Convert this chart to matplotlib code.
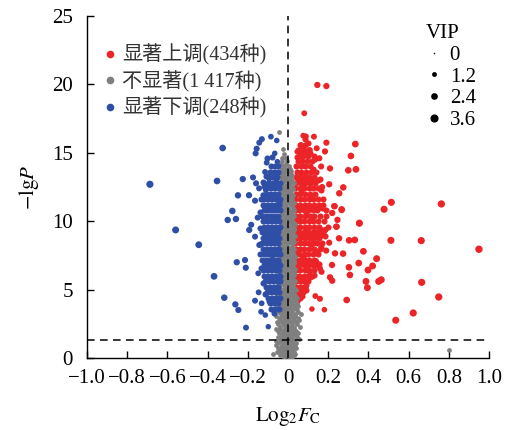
import numpy as np
import matplotlib
matplotlib.use("Agg")
import matplotlib.pyplot as plt
from matplotlib.lines import Line2D

plt.rcParams['font.family'] = ['Liberation Serif', 'Noto Sans CJK SC']
plt.rcParams['mathtext.fontset'] = 'stix'

# ---- data ----
# (log2FC, -lgP, VIP) for the scattered, clearly readable points
red_outer = [
    (0.146, 19.96, 2.6), (0.191, 19.88, 2.6), (0.081, 17.89, 2.2), (0.076, 16.25, 2.2),
    (0.089, 16.2, 2.2), (0.129, 16.18, 2.3), (0.065, 15.57, 2.2), (0.109, 15.2, 2.2),
    (0.143, 15.33, 2.3), (0.191, 15.74, 2.5), (0.184, 15.1, 2.5), (0.335, 15.64, 3.0),
    (0.313, 14.77, 2.9), (0.338, 13.79, 3.0), (0.300, 13.72, 2.9), (0.209, 13.86, 2.6),
    (0.046, 15.08, 2.0), (0.156, 14.6, 2.4), (0.135, 14.5, 2.3), (0.165, 14.0, 2.4),
    (0.275, 12.47, 2.8), (0.205, 12.7, 2.6), (0.170, 12.5, 2.4), (0.255, 12.04, 2.7),
    (0.232, 11.1, 2.6), (0.267, 10.87, 2.7), (0.514, 11.38, 3.3), (0.478, 10.87, 3.3),
    (0.355, 9.87, 3.0), (0.242, 9.6, 2.6), (0.22, 10.6, 2.6), (0.763, 11.26, 3.5),
    (0.950, 7.95, 3.6), (0.663, 8.58, 3.4), (0.512, 8.6, 3.3), (0.665, 5.53, 3.4),
    (0.750, 4.46, 3.5), (0.623, 3.29, 3.4), (0.536, 2.76, 3.3), (0.441, 7.26, 3.2),
    (0.421, 6.73, 3.1), (0.398, 6.43, 3.1), (0.464, 5.72, 3.2), (0.451, 5.6, 3.2),
    (0.388, 5.6, 3.1), (0.395, 5.14, 3.1), (0.292, 4.24, 2.9), (0.375, 7.8, 3.0),
    (0.352, 6.94, 3.0), (0.303, 6.63, 2.9), (0.308, 6.07, 2.9), (0.332, 8.63, 3.0),
    (0.304, 8.6, 2.9), (0.274, 7.63, 2.8), (0.234, 7.65, 2.7), (0.219, 6.8, 2.6),
    (0.209, 5.9, 2.6), (0.22, 5.65, 2.6), (0.159, 6.55, 2.4), (0.167, 6.3, 2.4),
    (0.136, 4.53, 2.2), (0.159, 4.33, 2.3), (0.119, 3.58, 1.9), (0.181, 3.53, 2.0),
    (0.186, 9.36, 2.5), (0.254, 8.75, 2.7), (0.267, 10.82, 2.7), (0.355, 9.84, 3.0),
    (0.24, 9.6, 2.6), (0.205, 8.43, 2.5), (0.19, 7.85, 2.5), (0.23, 11.1, 2.6),
    (0.246, 10.1, 2.6), (0.139, 7.09, 2.3), (0.108, 6.3, 2.2), (0.070, 5.17, 2.0),
    (0.06, 4.6, 2.0), (0.07, 5.8, 2.0),
]
blue_outer = [
    (-0.687, 12.7, 3.4), (-0.325, 15.35, 2.9), (-0.353, 12.94, 2.9), (-0.559, 9.36, 3.2),
    (-0.444, 8.28, 3.1), (-0.368, 5.97, 3.0), (-0.317, 4.41, 2.8), (-0.262, 3.92, 2.6),
    (-0.247, 3.51, 2.5), (-0.209, 2.22, 2.3), (-0.277, 10.75, 2.8), (-0.300, 10.09, 2.7),
    (-0.259, 10.16, 2.7), (-0.249, 11.89, 2.7), (-0.225, 13.08, 2.6), (-0.194, 11.9, 2.6),
    (-0.255, 7.0, 2.6), (-0.214, 7.16, 2.5), (-0.21, 6.6, 2.5), (-0.146, 4.8, 2.2),
    (-0.164, 4.19, 2.3), (-0.131, 4.0, 2.1), (-0.134, 3.38, 2.1), (-0.113, 3.14, 2.0),
    (-0.098, 2.29, 1.9), (-0.148, 6.19, 2.2), (-0.193, 9.36, 2.5), (-0.183, 9.74, 2.4),
    (-0.143, 8.26, 2.3), (-0.164, 8.87, 2.3), (-0.151, 10.26, 2.3), (-0.174, 13.2, 2.4),
    (-0.159, 12.77, 2.4), (-0.164, 11.5, 2.4), (-0.144, 12.4, 2.3), (-0.161, 14.96, 2.4),
    (-0.156, 15.3, 2.4), (-0.143, 15.74, 2.3), (-0.130, 16.0, 2.3), (-0.085, 16.18, 2.1),
    (-0.056, 15.9, 2.0), (-0.066, 14.96, 2.0), (-0.053, 14.35, 2.0), (-0.106, 14.28, 2.2),
    (-0.114, 13.6, 2.2), (-0.094, 13.1, 2.1), (-0.056, 13.5, 2.0), (-0.123, 11.9, 2.2),
    (-0.111, 12.3, 2.2), (-0.106, 10.8, 2.2),
]

# dense cores, read row by row: (-lgP, [log2FC, ...])
red_rows = [
    (4.4, [0.04, 0.06]), (4.8, [0.035, 0.055, 0.075]), (5.2, [0.04, 0.062, 0.085]),
    (5.6, [0.038, 0.058, 0.08, 0.1]), (6.0, [0.035, 0.056, 0.078, 0.1, 0.12]),
    (6.4, [0.04, 0.062, 0.083, 0.105, 0.128]), (6.8, [0.036, 0.057, 0.079, 0.1, 0.122, 0.145]),
    (7.2, [0.04, 0.061, 0.084, 0.106, 0.13]), (7.6, [0.035, 0.056, 0.078, 0.1, 0.124, 0.15]),
    (8.0, [0.04, 0.06, 0.082, 0.104, 0.127, 0.16]),
    (8.4, [0.036, 0.058, 0.08, 0.101, 0.123, 0.146, 0.17]),
    (8.8, [0.04, 0.062, 0.085, 0.107, 0.13, 0.155]),
    (9.2, [0.035, 0.057, 0.079, 0.1, 0.122, 0.144, 0.175]),
    (9.6, [0.04, 0.06, 0.083, 0.106, 0.129, 0.152]),
    (10.0, [0.036, 0.058, 0.08, 0.102, 0.124, 0.148, 0.18]),
    (10.4, [0.04, 0.062, 0.084, 0.107, 0.13, 0.16]),
    (10.8, [0.035, 0.056, 0.078, 0.1, 0.123, 0.145, 0.19]),
    (11.2, [0.04, 0.061, 0.083, 0.105, 0.128, 0.155]),
    (11.6, [0.036, 0.058, 0.08, 0.102, 0.125, 0.15, 0.175]),
    (12.0, [0.04, 0.062, 0.085, 0.108, 0.132]), (12.4, [0.037, 0.058, 0.08, 0.103, 0.126, 0.15]),
    (12.8, [0.042, 0.063, 0.086, 0.11, 0.135]), (13.2, [0.04, 0.06, 0.082, 0.105, 0.128]),
    (13.6, [0.045, 0.066, 0.088, 0.112, 0.14]), (14.0, [0.042, 0.064, 0.087, 0.11]),
    (14.4, [0.05, 0.072, 0.095, 0.118]), (14.8, [0.055, 0.077, 0.1]),
    (15.2, [0.052, 0.075, 0.098]), (15.6, [0.06, 0.085]),
    (5.0, [0.05, 0.07, 0.09]), (7.0, [0.045, 0.07, 0.095, 0.115, 0.14]),
    (9.0, [0.05, 0.075, 0.095, 0.115, 0.14, 0.165]), (11.0, [0.05, 0.07, 0.09, 0.115, 0.14, 0.17]),
    (13.0, [0.05, 0.075, 0.095, 0.12, 0.15]), (15.0, [0.065, 0.09, 0.11]),
]
red_extra = [
    (0.047, 4.2), (0.068, 4.5), (0.09, 5.3), (0.11, 5.9), (0.13, 6.1), (0.155, 6.9), (0.14, 7.8),
    (0.165, 8.1), (0.185, 8.9), (0.16, 9.4), (0.2, 9.6), (0.19, 10.4), (0.175, 11.2), (0.165, 12.3),
    (0.16, 13.1), (0.125, 13.8), (0.13, 14.8), (0.1, 15.7), (0.085, 16.0), (0.07, 15.3),
    (0.045, 14.7), (0.05, 6.5), (0.075, 7.4), (0.115, 8.3), (0.09, 10.7), (0.065, 12.2),
    (0.11, 11.8), (0.08, 13.4), (0.095, 9.4), (0.055, 10.0),
]
blue_rows = [
    (3.6, [-0.085, -0.065, -0.045]), (4.0, [-0.09, -0.07, -0.05]),
    (4.4, [-0.1, -0.08, -0.06, -0.042]), (4.8, [-0.105, -0.085, -0.065, -0.045]),
    (5.2, [-0.11, -0.09, -0.07, -0.05]), (5.6, [-0.115, -0.095, -0.075, -0.055, -0.04]),
    (6.0, [-0.12, -0.1, -0.08, -0.06, -0.042]), (6.4, [-0.125, -0.105, -0.085, -0.065, -0.045]),
    (6.8, [-0.12, -0.1, -0.08, -0.06, -0.04]), (7.2, [-0.128, -0.108, -0.088, -0.068, -0.048]),
    (7.6, [-0.12, -0.1, -0.08, -0.06, -0.042]), (8.0, [-0.125, -0.105, -0.085, -0.065, -0.045]),
    (8.4, [-0.13, -0.11, -0.09, -0.07, -0.05]), (8.8, [-0.122, -0.102, -0.082, -0.062, -0.043]),
    (9.2, [-0.128, -0.108, -0.088, -0.068, -0.048]), (9.6, [-0.12, -0.1, -0.08, -0.06, -0.042]),
    (10.0, [-0.125, -0.105, -0.085, -0.065, -0.045]), (10.4, [-0.13, -0.11, -0.09, -0.07, -0.05]),
    (10.8, [-0.12, -0.1, -0.08, -0.06, -0.042]), (11.2, [-0.125, -0.105, -0.085, -0.065, -0.046]),
    (11.6, [-0.118, -0.098, -0.078, -0.058, -0.04]), (12.0, [-0.11, -0.09, -0.07, -0.05]),
    (12.4, [-0.105, -0.085, -0.065, -0.046]), (12.8, [-0.1, -0.08, -0.06, -0.042]),
    (13.2, [-0.095, -0.075, -0.055]), (13.6, [-0.09, -0.07, -0.05]),
    (14.0, [-0.085, -0.065, -0.048]),
    (5.0, [-0.095, -0.075, -0.055]), (7.0, [-0.115, -0.09, -0.07, -0.052]),
    (9.0, [-0.115, -0.095, -0.075, -0.055]), (11.0, [-0.115, -0.09, -0.07, -0.052]),
    (12.6, [-0.12, -0.095, -0.072, -0.052]),
]
blue_extra = [
    (-0.072, 3.3), (-0.095, 4.2), (-0.115, 4.7), (-0.125, 5.5), (-0.135, 6.6), (-0.14, 7.6),
    (-0.138, 8.3), (-0.14, 9.5), (-0.137, 10.7), (-0.132, 11.6), (-0.125, 12.9), (-0.11, 13.3),
    (-0.105, 14.6), (-0.08, 14.7), (-0.09, 5.9), (-0.078, 7.5), (-0.095, 8.6), (-0.07, 10.1),
    (-0.088, 11.9), (-0.062, 13.1), (-0.05, 6.4), (-0.048, 9.4), (-0.045, 11.3),
]
gray_rows = [
    (0.1, [-0.02, 0.005, 0.02]), (0.3, [-0.076, -0.03, -0.01, 0.012, 0.035]),
    (0.55, [-0.045, -0.022, 0.0, 0.022, 0.8]), (0.8, [-0.035, -0.012, 0.01, 0.03]),
    (1.1, [-0.05, -0.025, -0.005, 0.018, 0.04]), (1.4, [-0.04, -0.018, 0.005, 0.026, 0.055]),
    (1.7, [-0.03, -0.008, 0.014, 0.035]), (2.0, [-0.05, -0.026, -0.004, 0.02, 0.042]),
    (2.3, [-0.038, -0.016, 0.008, 0.03, 0.06]), (2.6, [-0.055, -0.028, -0.006, 0.016, 0.04]),
    (2.9, [-0.044, -0.02, 0.002, 0.024, 0.048]), (3.2, [-0.034, -0.012, 0.012, 0.034, 0.065]),
    (3.5, [-0.05, -0.026, -0.004, 0.02, 0.044]), (3.8, [-0.04, -0.018, 0.006, 0.028, 0.052]),
    (4.1, [-0.054, -0.03, -0.008, 0.015, 0.038]), (4.4, [-0.044, -0.02, 0.002, 0.025, 0.046]),
    (4.7, [-0.036, -0.012, 0.01, 0.032]), (5.0, [-0.05, -0.026, -0.004, 0.018, 0.04]),
    (5.3, [-0.042, -0.018, 0.004, 0.026]), (5.6, [-0.034, -0.01, 0.012, 0.034]),
    (5.9, [-0.048, -0.024, -0.002, 0.02]), (6.2, [-0.04, -0.016, 0.006, 0.028]),
    (6.5, [-0.032, -0.01, 0.014, 0.034]), (6.8, [-0.046, -0.022, 0.0, 0.022]),
    (7.1, [-0.038, -0.014, 0.008, 0.03]), (7.4, [-0.03, -0.006, 0.016, 0.036]),
    (7.7, [-0.044, -0.02, 0.002, 0.024]), (8.0, [-0.036, -0.012, 0.01, 0.032]),
    (8.3, [-0.028, -0.004, 0.018]), (8.6, [-0.042, -0.018, 0.004, 0.026]),
    (8.9, [-0.034, -0.01, 0.012, 0.033]), (9.2, [-0.026, -0.002, 0.02]),
    (9.5, [-0.04, -0.016, 0.006, 0.028]), (9.8, [-0.032, -0.008, 0.014, 0.034]),
    (10.1, [-0.024, 0.0, 0.022]), (10.4, [-0.038, -0.014, 0.008, 0.03]),
    (10.7, [-0.03, -0.006, 0.016]), (11.0, [-0.022, 0.002, 0.024]),
    (11.3, [-0.036, -0.012, 0.01, 0.03]), (11.6, [-0.028, -0.004, 0.018]),
    (11.9, [-0.02, 0.004, 0.026]), (12.2, [-0.034, -0.01, 0.012]),
    (12.5, [-0.026, -0.002, 0.02]), (12.8, [-0.03, 0.006, 0.028]),
    (13.1, [-0.032, -0.008, 0.014]), (13.4, [-0.024, 0.0, 0.022]),
    (13.7, [-0.03, -0.006, 0.016]), (14.0, [-0.02, 0.004]),
    (14.4, [-0.028, -0.006]), (14.9, [-0.018]), (16.55, [-0.045]),
    (0.2, [-0.04, -0.015, 0.01, 0.028]), (0.45, [-0.055, -0.034, -0.011, 0.011, 0.03]),
    (0.7, [-0.048, -0.024, -0.001, 0.02, 0.042]), (0.95, [-0.058, -0.03, -0.007, 0.015, 0.036]),
    (1.25, [-0.062, -0.036, -0.014, 0.008, 0.03]), (1.55, [-0.052, -0.029, -0.006, 0.016, 0.045]),
    (1.85, [-0.045, -0.02, 0.003, 0.025, 0.05]), (2.15, [-0.062, -0.038, -0.015, 0.008, 0.031]),
    (2.45, [-0.05, -0.027, -0.004, 0.019, 0.045]), (2.75, [-0.042, -0.017, 0.005, 0.028, 0.055]),
    (3.05, [-0.058, -0.032, -0.01, 0.013, 0.036]), (3.35, [-0.046, -0.023, 0.0, 0.022, 0.05]),
    (3.65, [-0.06, -0.035, -0.012, 0.01, 0.033]), (3.95, [-0.048, -0.026, -0.003, 0.018, 0.044]),
    (4.25, [-0.04, -0.016, 0.006, 0.03]), (4.55, [-0.055, -0.031, -0.008, 0.014, 0.036]),
    (4.85, [-0.046, -0.022, 0.0, 0.022]), (5.15, [-0.038, -0.014, 0.008, 0.03]),
    (5.45, [-0.052, -0.028, -0.006, 0.016]), (5.75, [-0.044, -0.02, 0.002, 0.024]),
    (6.05, [-0.036, -0.012, 0.01, 0.031]), (6.35, [-0.05, -0.026, -0.004, 0.018]),
    (6.65, [-0.042, -0.018, 0.004, 0.026]), (6.95, [-0.034, -0.01, 0.012, 0.03]),
    (7.25, [-0.048, -0.024, -0.002, 0.02]), (7.55, [-0.04, -0.016, 0.006, 0.028]),
    (7.85, [-0.032, -0.008, 0.014]), (8.15, [-0.046, -0.022, 0.0, 0.022]),
    (8.45, [-0.038, -0.014, 0.008, 0.03]), (8.75, [-0.03, -0.006, 0.016]),
    (9.05, [-0.044, -0.02, 0.002, 0.024]), (9.35, [-0.036, -0.012, 0.01, 0.03]),
    (9.65, [-0.028, -0.004, 0.018]), (9.95, [-0.042, -0.018, 0.004, 0.026]),
    (10.25, [-0.034, -0.01, 0.012]), (10.55, [-0.026, -0.002, 0.02]),
    (10.85, [-0.04, -0.016, 0.006, 0.028]), (11.15, [-0.032, -0.008, 0.014]),
    (11.45, [-0.024, 0.0, 0.022]), (11.75, [-0.038, -0.014, 0.008]),
    (12.05, [-0.03, -0.006, 0.016]), (12.35, [-0.022, 0.002, 0.024]),
    (12.65, [-0.036, -0.012, 0.01]), (12.95, [-0.02, 0.0, 0.02]),
    (13.25, [-0.036, -0.014, 0.008]), (13.55, [-0.04, -0.018, 0.004]),
    (13.85, [-0.028, -0.01, 0.012]), (14.2, [-0.035, -0.012]),
    (14.65, [-0.03, -0.008]), (15.3, [-0.025]),
]
red_core_vip = 2.4
blue_core_vip = 2.4
gray_vip = 1.4

legend_labels = ["显著上调(434种)", "不显著(1 417种)", "显著下调(248种)"]
vip_levels = [0, 1.2, 2.4, 3.6]
x_ticks = [-1.0, -0.8, -0.6, -0.4, -0.2, 0, 0.2, 0.4, 0.6, 0.8, 1.0]
x_tick_labels = ["\u22121.0", "\u22120.8", "\u22120.6", "\u22120.4", "\u22120.2", "0",
                 "0.2", "0.4", "0.6", "0.8", "1.0"]
y_ticks = [0, 5, 10, 15, 20, 25]
p_cut = 0.05

red = "#EC2327"
gray = "#7F7F7F"
blue = "#2F4FA6"


def vip_size(v):
    return 1 + 7.6 * np.asarray(v)


def unpack(rows):
    xs = [x for y, row in rows for x in row]
    ys = [y for y, row in rows for x in row]
    return np.array(xs), np.array(ys)


fig = plt.figure(figsize=(5.1, 4.3), dpi=100)
ax = fig.add_axes([87 / 510, 72 / 430, 402 / 510, 342 / 430])

ro = np.array(red_outer)
bo = np.array(blue_outer)
re = np.array(red_extra)
be = np.array(blue_extra)
rx, ry = unpack(red_rows)
bx, by = unpack(blue_rows)
gx, gy = unpack(gray_rows)

ax.scatter(rx, ry, s=vip_size(red_core_vip), c=red, linewidths=0, zorder=2)
ax.scatter(re[:, 0], re[:, 1], s=vip_size(red_core_vip), c=red, linewidths=0, zorder=2)
ax.scatter(ro[:, 0], ro[:, 1], s=vip_size(ro[:, 2]), c=red, linewidths=0, zorder=2)
ax.scatter(gx, gy, s=vip_size(gray_vip), c=gray, linewidths=0, zorder=3)
ax.scatter(bx, by, s=vip_size(blue_core_vip), c=blue, linewidths=0, zorder=4)
ax.scatter(be[:, 0], be[:, 1], s=vip_size(blue_core_vip), c=blue, linewidths=0, zorder=4)
ax.scatter(bo[:, 0], bo[:, 1], s=vip_size(bo[:, 2]), c=blue, linewidths=0, zorder=4)

# threshold lines
ax.axhline(-np.log10(p_cut), color="black", linestyle=(0, (5, 3.5)), linewidth=1.1, zorder=5)
ax.axvline(0, color="black", linestyle=(0, (5, 3.5)), linewidth=1.1, zorder=5)

ax.set_xlim(-1, 1)
ax.set_ylim(0, 25)
ax.set_xticks(x_ticks)
ax.set_xticklabels(x_tick_labels)
ax.set_yticks(y_ticks)
ax.tick_params(direction="in", length=5, width=1, labelsize=15, colors="black")
ax.tick_params(axis="x", pad=8)
ax.tick_params(axis="y", pad=10)
for side in ["top", "right"]:
    ax.spines[side].set_visible(False)
for side in ["left", "bottom"]:
    ax.spines[side].set_linewidth(1)

ax.set_xlabel(r"$\mathrm{Log}_2F_\mathrm{C}$", fontsize=15, labelpad=12)
ax.set_ylabel(r"$-\mathrm{lg}P$", fontsize=15, labelpad=8)

# group legend
handles = [Line2D([], [], marker="o", linestyle="none", markersize=5.5, markerfacecolor=c,
                  markeredgewidth=0) for c in [red, gray, blue]]
leg1 = ax.legend(handles, legend_labels, loc="upper left", bbox_to_anchor=(0.012, 0.94),
                 frameon=False, fontsize=14.5, handletextpad=0.1, handlelength=1.0,
                 labelspacing=0.25, borderaxespad=0)
for t in leg1.get_texts():
    t.set_color("#333333")
ax.add_artist(leg1)

# VIP size legend
vip_handles = [Line2D([], [], marker="o", linestyle="none", color="black",
                      markersize=np.sqrt(vip_size(v)) * 1.1, markeredgewidth=0) for v in vip_levels]
leg2 = ax.legend(vip_handles, [str(v) for v in vip_levels], title="VIP", loc="upper left",
                 bbox_to_anchor=(0.822, 1.0), frameon=False, fontsize=15, title_fontsize=15,
                 handletextpad=0.35, handlelength=0.8, labelspacing=0.1, borderaxespad=0,
                 alignment="left")

fig.savefig("out.png", dpi=100)
